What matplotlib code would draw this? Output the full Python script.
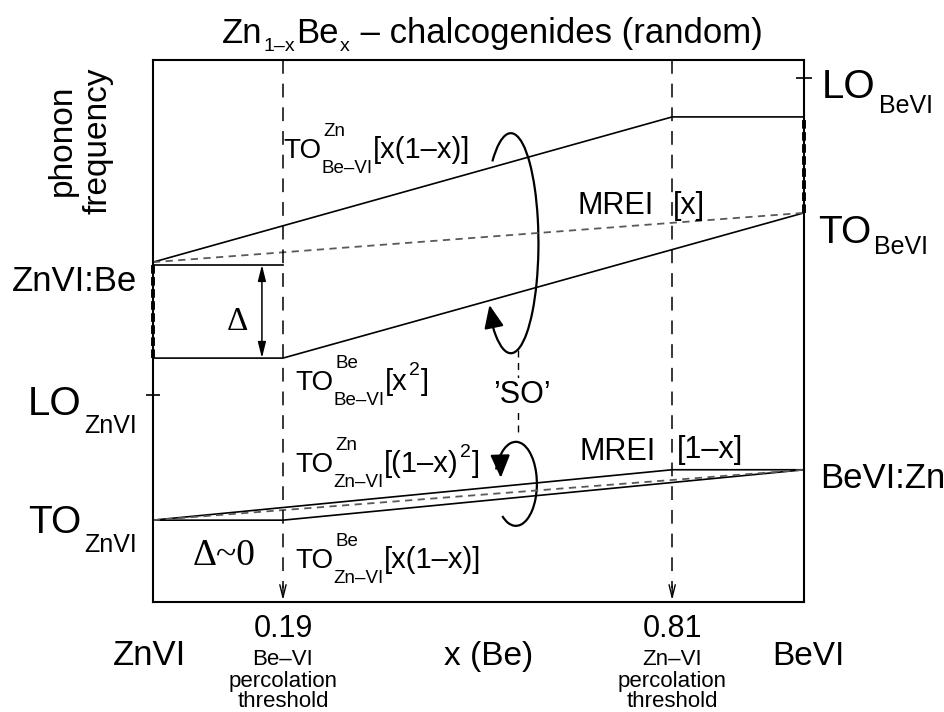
# -*- coding: utf-8 -*-
import numpy as np
import matplotlib
matplotlib.use('Agg')
import matplotlib.pyplot as plt
from matplotlib.patches import Arc

# x = Be content; the sketch is not to scale, frame edges sit a bit outside 0 and 1
x_left, x_right = -0.017, 1.020
x_be_perc = 0.19   # Be-VI percolation threshold
x_zn_perc = 0.81   # Zn-VI percolation threshold

# phonon levels, arbitrary units (0 = bottom of frame, 100 = top)
to_znvi = 15.1
bevi_zn = 24.4
lo_znvi = 38.2
be_low = 45.0
znvi_be = 62.2
be_start = 62.7
to_bevi = 71.8
be_high = 89.5
lo_bevi = 96.7

# branches
bezn_x = [x_left, x_zn_perc, x_right]
bezn_y = [be_start, be_high, be_high]
bebe_x = [x_left, x_be_perc, x_right]
bebe_y = [be_low, be_low, to_bevi]
mrei_be_x = [x_left, x_right]
mrei_be_y = [be_start, to_bevi]
box_x = [x_left, x_be_perc]
box_y = [znvi_be, znvi_be]
znzn_x = [x_left, x_zn_perc, x_right]
znzn_y = [to_znvi, bevi_zn, bevi_zn]
znbe_x = [x_left, x_be_perc, x_right]
znbe_y = [to_znvi, to_znvi, bevi_zn]
mrei_zn_x = [x_left, x_right]
mrei_zn_y = [to_znvi, bevi_zn]

plt.rcParams['font.family'] = ['Liberation Sans', 'DejaVu Sans']

W, H = 945, 712
fig = plt.figure(figsize=(W / 100, H / 100), dpi=100)
ax = fig.add_axes([153 / W, 1 - 602 / H, 651 / W, 542 / H])
ax.set_xlim(x_left, x_right)
ax.set_ylim(0, 100)
for s in ax.spines.values():
    s.set_linewidth(1.5)

solid = dict(color='k', lw=1.2, solid_joinstyle='miter')
grey = dict(color='0.35', lw=1.3, linestyle=(0, (4, 3)))
ax.plot(bezn_x, bezn_y, **solid)
ax.plot(bebe_x, bebe_y, **solid)
ax.plot(box_x, box_y, **solid)
ax.plot(mrei_be_x, mrei_be_y, **grey)
ax.plot(znzn_x, znzn_y, **solid)
ax.plot(znbe_x, znbe_y, **solid)
ax.plot(mrei_zn_x, mrei_zn_y, **grey)

# thick dashed ends of the Be-VI band
thick = dict(color='k', lw=2.8, linestyle=(0, (2.2, 0.9)), clip_on=False)
ax.plot([x_left, x_left], [be_low, znvi_be], **thick)
ax.plot([x_right, x_right], [to_bevi, be_high], **thick)

# percolation thresholds
for xp in [x_be_perc, x_zn_perc]:
    ax.plot([xp, xp], [100, 2.5], color='k', lw=1.1, linestyle=(0, (9, 6.5)))
    ax.annotate('', xy=(xp, 0.35), xytext=(xp, 3.0),
                arrowprops=dict(arrowstyle='->,head_length=0.6,head_width=0.15',
                                color='k', lw=1.0, mutation_scale=15,
                                shrinkA=0, shrinkB=0))

# Delta arrow
ax.annotate('', xy=(0.1565, znvi_be), xytext=(0.1565, be_low),
            arrowprops=dict(arrowstyle='<|-|>,head_length=0.8,head_width=0.2',
                            color='k', lw=1.1, mutation_scale=12,
                            shrinkA=0, shrinkB=0))


def loop(cx, cy, w, h, t1, t2):
    # Arc angles are polar angles in data space, convert from parametric ones
    def conv(t):
        t = np.radians(t)
        return np.degrees(np.arctan2(h * np.sin(t), w * np.cos(t)))
    ax.add_patch(Arc((cx, cy), w, h, theta1=conv(t1), theta2=conv(t2),
                     color='k', lw=1.6))


loop(0.553, 66.2, 0.088, 40.6, -140, 132)
loop(0.561, 21.8, 0.067, 15.5, -130, 160)
head = dict(arrowstyle='-|>,head_length=0.7,head_width=0.3', color='k',
            lw=1.6, mutation_scale=20, shrinkA=0, shrinkB=0)
ax.annotate('', xy=(0.519, 54.8), xytext=(0.526, 50.8), arrowprops=head)
ax.annotate('', xy=(0.537, 22.9), xytext=(0.536, 27.0), arrowprops=head)

# 'SO' link between the two loops
ax.plot([0.565, 0.565], [46.5, 30.5], color='k', lw=1.0, linestyle=(0, (5, 4)))


def txt(px, py, s, size, va='baseline', **kw):
    return ax.annotate(s, xy=(px, H - py), xycoords='figure pixels',
                       fontsize=size, va=va, annotation_clip=False, **kw)


def after(prev, py, s, size, gap=1, **kw):
    return ax.annotate(s, xy=(1, H - py), xycoords=(prev, 'figure pixels'),
                       xytext=(gap, 0), textcoords='offset pixels',
                       fontsize=size, va='baseline', annotation_clip=False, **kw)


def level(px, py, main, sub, size, subsize, dy):
    t = txt(px, py, main, size)
    after(t, py + dy, sub, subsize, gap=3)


def to_label(px, py, sup, sub, tail):
    # tail: list of (text, raise in px, size)
    t = txt(px, py, 'TO', 20)
    after(t, py - 22, sup, 13.5, gap=2)
    t = after(t, py + 15, sub, 13.5, gap=0)
    for s, dy, size in tail:
        t = after(t, py - dy, s, size, gap=1)


# title
t = txt(222, 43, 'Zn', 25)
t = after(t, 51, '1\u2013x', 14)
t = after(t, 43, 'Be', 25)
t = after(t, 51, 'x', 14)
after(t, 43, ' \u2013 chalcogenides (random)', 25, gap=2)

txt(62, 140, 'phonon', 24, rotation=90, ha='center', va='center')
txt(98, 141, 'frequency', 24, rotation=90, ha='center', va='center')

txt(12, 291, 'ZnVI:Be', 25)
level(28, 415, 'LO', 'ZnVI', 29, 18, 18)
level(28, 533, 'TO', 'ZnVI', 28, 18, 19)
level(822, 98, 'LO', 'BeVI', 29, 18, 15)
level(818, 243, 'TO', 'BeVI', 28, 18, 11)
txt(820, 488, 'BeVI:Zn', 25)

serif = ['Liberation Serif', 'DejaVu Serif']
txt(237, 330, '\u0394', 24, ha='center', family=serif)
txt(224, 565, '\u0394~0', 27, ha='center', family=serif)

to_label(283, 158, 'Zn', 'Be\u2013VI', [('[x(1\u2013x)]', 0, 21)])
to_label(295, 390, 'Be', 'Be\u2013VI', [('[x', 0, 21), ('2', 15, 14), (']', 0, 21)])
to_label(295, 472, 'Zn', 'Zn\u2013VI',
         [('[(1\u2013x)', 0, 21), ('2', 15, 14), (']', 0, 21)])
to_label(295, 568, 'Be', 'Zn\u2013VI', [('[x(1\u2013x)]', 0, 21)])

txt(578, 214, 'MREI', 22)
txt(673, 214, '[x]', 22)
txt(580, 460, 'MREI', 22)
txt(677, 458, '[1\u2013x]', 22)
txt(522, 403, '\u2019SO\u2019', 22, ha='center',
    bbox=dict(fc='white', ec='none', pad=1))

# bottom axis labels
txt(149, 665, 'ZnVI', 25, ha='center')
txt(489, 665, 'x (Be)', 24, ha='center')
txt(808, 665, 'BeVI', 24, ha='center')
for xc, num, phase in [(283, '0.19', 'Be\u2013VI'), (672, '0.81', 'Zn\u2013VI')]:
    txt(xc, 637, num, 22, ha='center')
    txt(xc, 665, phase, 16, ha='center')
    txt(xc, 687, 'percolation', 16, ha='center')
    txt(xc, 707, 'threshold', 16, ha='center')

# ticks marking the LO modes
ax.set_xticks([])
ax.set_yticks([lo_znvi])
ax.tick_params(axis='y', direction='inout', length=10, width=1.2, labelleft=False)
ax2 = ax.twinx()
ax2.set_ylim(0, 100)
ax2.set_yticks([lo_bevi])
ax2.tick_params(axis='y', direction='inout', length=11, width=1.2, labelright=False)
for s in ax2.spines.values():
    s.set_visible(False)

fig.savefig('out.png', dpi=100)
